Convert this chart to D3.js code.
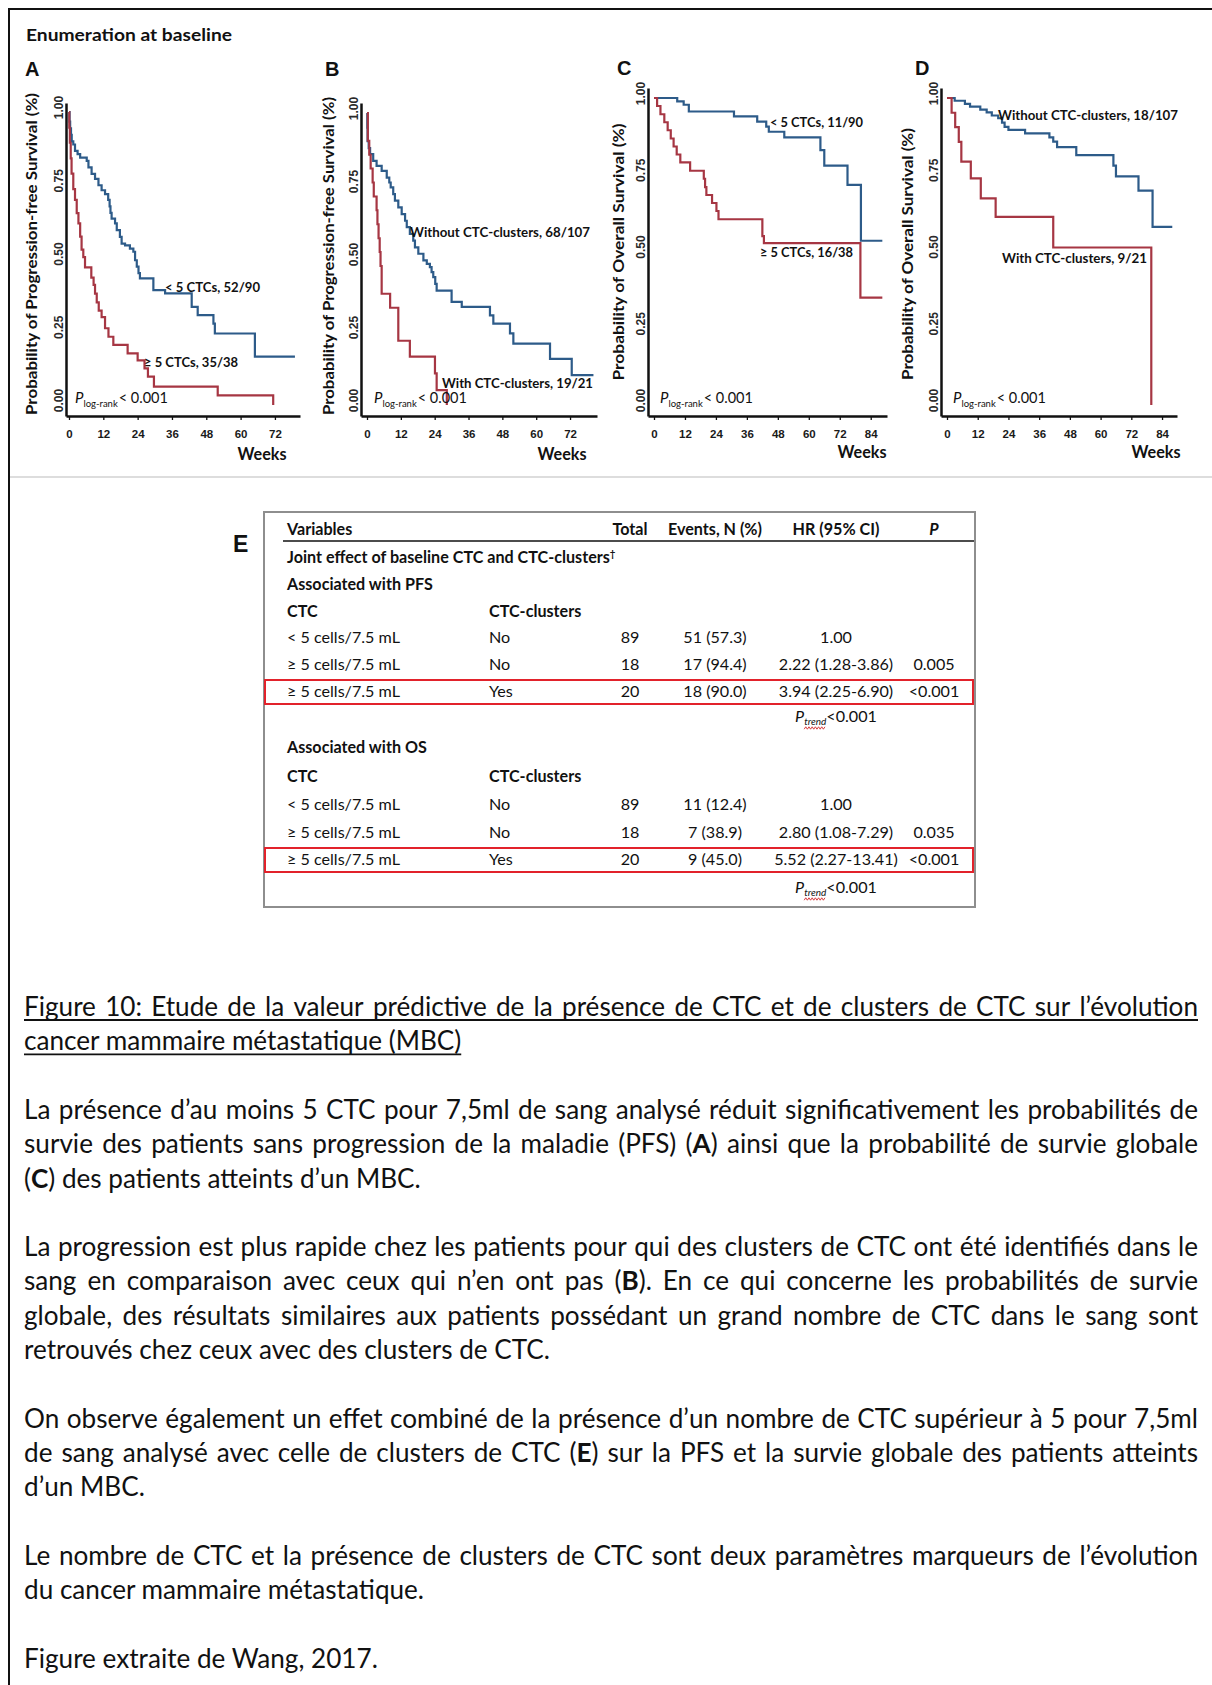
<!DOCTYPE html>
<html>
<head>
<meta charset="utf-8">
<script src="https://d3js.org/d3.v7.min.js"></script>
<style>
  body { margin: 0; background: #fff; }
</style>
</head>
<body>
<svg id="fig" width="1212" height="1685"></svg>
<script>
// ---- data ----
var pfsWeeks = [0, 12, 24, 36, 48, 60, 72];
var osWeeks = [0, 12, 24, 36, 48, 60, 72, 84];
var survTicks = [0, 0.25, 0.5, 0.75, 1];

// Kaplan-Meier steps: [week, survival after the step]
var pfsLowCtc = [[0,1],[0.2,0.967],[0.4,0.944],[0.7,0.922],[0.95,0.9],[1.5,0.889],[2.1,0.867],[3,0.856],[3.9,0.844],[6.2,0.833],[6.8,0.811],[7.9,0.789],[9.1,0.772],[10.3,0.75],[11.4,0.733],[12.6,0.72],[13.7,0.7],[14.2,0.678],[14.5,0.656],[14.9,0.636],[16.1,0.62],[16.7,0.597],[17.8,0.574],[18.4,0.551],[19.6,0.545],[21.3,0.534],[22.5,0.523],[23.1,0.494],[23.7,0.472],[24.3,0.45],[24.8,0.432],[29.5,0.392],[33.6,0.381],[42.9,0.335],[45,0.307],[50.5,0.278],[51,0.244],[65,0.165],[79,0.165]];
var pfsHighCtc = [[0,1],[0.1,0.947],[0.3,0.895],[0.6,0.842],[0.9,0.79],[1.5,0.737],[2.1,0.7],[2.7,0.655],[3.3,0.62],[3.9,0.575],[4.4,0.53],[5,0.505],[5.6,0.47],[7.8,0.435],[8.6,0.41],[9.1,0.38],[9.7,0.35],[10.4,0.322],[11.4,0.3],[12.6,0.262],[13.8,0.233],[15.5,0.205],[20.5,0.176],[24,0.152],[26.4,0.125],[27.6,0.097],[29.7,0.063],[52,0.033],[71.4,0]];
var pfsNoClusters = [[0,1],[0.1,0.95],[0.2,0.904],[0.6,0.88],[1.1,0.859],[2.2,0.836],[3.4,0.819],[5.2,0.802],[7,0.779],[7.9,0.762],[8.4,0.745],[9.3,0.722],[9.9,0.7],[11.1,0.677],[12.3,0.654],[13.5,0.631],[14.1,0.609],[15.2,0.586],[16.4,0.563],[17,0.54],[18.2,0.518],[20,0.495],[21.2,0.483],[22.3,0.472],[22.9,0.455],[23.5,0.438],[24.2,0.415],[24.7,0.392],[30,0.353],[33.6,0.336],[43.6,0.307],[44.8,0.279],[50.7,0.245],[51.9,0.21],[64.9,0.158],[72.6,0.102],[80.3,0.102]];
var pfsClusters = [[0,1],[0.3,0.905],[0.8,0.857],[1.3,0.81],[2,0.762],[2.4,0.714],[3.4,0.667],[3.7,0.619],[4.1,0.571],[4.5,0.524],[4.8,0.476],[5.2,0.381],[8.2,0.333],[11.1,0.22],[15.2,0.166],[24.1,0.108],[24.7,0.051],[28.3,0]];
var osLowCtc = [[0,1],[9,0.989],[11.5,0.978],[13.5,0.956],[31,0.94],[40,0.923],[43.5,0.907],[44.5,0.89],[50.5,0.872],[64.5,0.83],[66,0.78],[75,0.717],[80.2,0.535],[88.5,0.535]];
var osHighCtc = [[0,1],[1.2,0.974],[2.5,0.947],[4,0.921],[5.3,0.895],[6.5,0.868],[7.6,0.842],[8.8,0.816],[10.2,0.79],[14,0.763],[19.3,0.737],[19.8,0.71],[20.3,0.684],[22.5,0.658],[24.2,0.632],[25,0.605],[42,0.55],[42.6,0.527],[80,0.35],[88.5,0.35]];
var osNoClusters = [[0,1],[3,0.991],[7,0.981],[9,0.972],[13,0.962],[15.5,0.953],[17.5,0.943],[20,0.934],[21.5,0.92],[22.5,0.906],[24,0.896],[30.5,0.885],[40,0.872],[41.5,0.858],[43,0.84],[50.5,0.814],[65,0.78],[66,0.745],[74.8,0.698],[80.3,0.58],[88,0.58]];
var osClusters = [[0,1],[1.8,0.952],[3.2,0.905],[4.6,0.857],[5.6,0.793],[9.3,0.738],[13.2,0.673],[19,0.613],[41.5,0.513],[79.8,0]];

// table E
var tableHeader = ["Variables", "Total", "Events, N (%)", "HR (95% CI)", "P"];
var pfsRows = [
  ["< 5 cells/7.5 mL", "No", "89", "51 (57.3)", "1.00", ""],
  ["≥ 5 cells/7.5 mL", "No", "18", "17 (94.4)", "2.22 (1.28-3.86)", "0.005"],
  ["≥ 5 cells/7.5 mL", "Yes", "20", "18 (90.0)", "3.94 (2.25-6.90)", "<0.001"]
];
var osRows = [
  ["< 5 cells/7.5 mL", "No", "89", "11 (12.4)", "1.00", ""],
  ["≥ 5 cells/7.5 mL", "No", "18", "7 (38.9)", "2.80 (1.08-7.29)", "0.035"],
  ["≥ 5 cells/7.5 mL", "Yes", "20", "9 (45.0)", "5.52 (2.27-13.41)", "<0.001"]
];

// caption (one entry per printed line, *x* = bold)
var captionTitle = ["Figure 10: Etude de la valeur prédictive de la présence de CTC et de clusters de CTC sur l’évolution",
  "cancer mammaire métastatique (MBC)"];
var para1 = ["La présence d’au moins 5 CTC pour 7,5ml de sang analysé réduit significativement les probabilités de",
  "survie des patients sans progression de la maladie (PFS) (*A*) ainsi que la probabilité de survie globale",
  "(*C*) des patients atteints d’un MBC."];
var para2 = ["La progression est plus rapide chez les patients pour qui des clusters de CTC ont été identifiés dans le",
  "sang en comparaison avec ceux qui n’en ont pas (*B*). En ce qui concerne les probabilités de survie",
  "globale, des résultats similaires aux patients possédant un grand nombre de CTC dans le sang sont",
  "retrouvés chez ceux avec des clusters de CTC."];
var para3 = ["On observe également un effet combiné de la présence d’un nombre de CTC supérieur à 5 pour 7,5ml",
  "de sang analysé avec celle de clusters de CTC (*E*) sur la PFS et la survie globale des patients atteints",
  "d’un MBC."];
var para4 = ["Le nombre de CTC et la présence de clusters de CTC sont deux paramètres marqueurs de l’évolution",
  "du cancer mammaire métastatique."];
var para5 = ["Figure extraite de Wang, 2017."];

// ---- drawing ----
var CAL = "Lato, 'Open Sans', sans-serif";
var ARI = "'Liberation Sans', Arial, sans-serif";
var blue = "#2d5b89", red = "#a63643", ink = "#111";
var W = 1212, H = 1685;
var svg = d3.select("#fig");

function fitSize(str, target, weight) {
  var t = svg.append("text").attr("font-family", CAL).attr("font-weight", weight)
    .attr("font-size", 20).text(str);
  var w = t.node().getComputedTextLength();
  t.remove();
  return 20 * target / w;
}

function segs(sel, str) {
  str.split("*").forEach(function(s, i) {
    if (!s) return;
    sel.append("tspan").attr("font-weight", i % 2 ? "bold" : null).text(s);
  });
}

// frame + separator
svg.append("line").attr("x1", 8).attr("x2", W).attr("y1", 9).attr("y2", 9)
  .attr("stroke", ink).attr("stroke-width", 2);
svg.append("line").attr("x1", 9).attr("x2", 9).attr("y1", 8).attr("y2", H)
  .attr("stroke", ink).attr("stroke-width", 2);
svg.append("line").attr("x1", 10).attr("x2", W).attr("y1", 477).attr("y2", 477)
  .attr("stroke", "#d2d2d2").attr("stroke-width", 1.5);

svg.append("text").attr("x", 26).attr("y", 41)
  .attr("font-family", CAL).attr("font-weight", "bold").attr("font-size", 17.5).attr("fill", ink)
  .attr("textLength", 206).attr("lengthAdjust", "spacingAndGlyphs")
  .text("Enumeration at baseline");

var panels = [
  {key: "A", lx: 25, ly: 76, axL: 66, axR: 300, zero: 69, pw: 2.86, top: 103, bot: 416, y0: 405, y1: 112,
   ticks: pfsWeeks, title: "Probability of Progression-free Survival (%)", tx: 37, ty: 254, tlen: 322,
   wx: 262, wy: 460, px: 75, series: [[pfsLowCtc, blue], [pfsHighCtc, red]],
   notes: [["< 5 CTCs, 52/90", 165, 292, 95], ["≥ 5 CTCs, 35/38", 144, 367, 94]]},
  {key: "B", lx: 325, ly: 76, axL: 361, axR: 597, zero: 367, pw: 2.82, top: 103, bot: 416, y0: 405, y1: 113,
   ticks: pfsWeeks, title: "Probability of Progression-free Survival (%)", tx: 334, ty: 256, tlen: 318,
   wx: 562, wy: 460, px: 374, series: [[pfsNoClusters, blue], [pfsClusters, red]],
   notes: [["Without CTC-clusters, 68/107", 410, 237, 180], ["With CTC-clusters, 19/21", 442, 388, 151]]},
  {key: "C", lx: 617, ly: 75, axL: 648, axR: 887, zero: 654, pw: 2.58, top: 88, bot: 416, y0: 405, y1: 98,
   ticks: osWeeks, title: "Probability of Overall Survival (%)", tx: 624, ty: 252, tlen: 257,
   wx: 862, wy: 458, px: 660, series: [[osLowCtc, blue], [osHighCtc, red]],
   notes: [["< 5 CTCs, 11/90", 770, 127, 93], ["≥ 5 CTCs, 16/38", 760, 257, 93]]},
  {key: "D", lx: 915, ly: 75, axL: 941, axR: 1177, zero: 947, pw: 2.56, top: 88, bot: 416, y0: 405, y1: 98,
   ticks: osWeeks, title: "Probability of Overall Survival (%)", tx: 913, ty: 254, tlen: 252,
   wx: 1156, wy: 458, px: 953, series: [[osNoClusters, blue], [osClusters, red]],
   notes: [["Without CTC-clusters, 18/107", 998, 120, 180], ["With CTC-clusters, 9/21", 1002, 263, 145]]}
];

panels.forEach(function(p) {
  var x = d3.scaleLinear()
    .domain([(p.axL - p.zero) / p.pw, (p.axR - p.zero) / p.pw])
    .range([p.axL, p.axR]);
  var per = p.y0 - p.y1;
  var y = d3.scaleLinear()
    .domain([(p.y0 - p.bot) / per, (p.y0 - p.top) / per])
    .range([p.bot, p.top]);
  var g = svg.append("g");

  var line = d3.line()
    .x(function(d) { return x(d[0]); })
    .y(function(d) { return y(d[1]); })
    .curve(d3.curveStepAfter);
  p.series.forEach(function(s) {
    g.append("path").datum(s[0]).attr("d", line)
      .attr("fill", "none").attr("stroke", s[1]).attr("stroke-width", 2.2);
  });

  // x axis
  var xa = g.append("g").attr("transform", "translate(0," + p.bot + ")")
    .call(d3.axisBottom(x).tickValues(p.ticks).tickSize(4).tickSizeOuter(0).tickPadding(10));
  xa.select(".domain").attr("stroke", ink).attr("stroke-width", 2.5);
  xa.selectAll(".tick line").attr("stroke", ink).attr("stroke-width", 1.3);
  xa.selectAll("text").attr("font-family", ARI).attr("font-weight", "bold")
    .attr("font-size", 11.5).attr("fill", "#1a1a1a");

  // y axis, labels turned
  var ya = g.append("g").attr("transform", "translate(" + p.axL + ",0)")
    .call(d3.axisLeft(y).tickValues(survTicks).tickSize(0).tickSizeOuter(0).tickFormat(d3.format(".2f")));
  ya.select(".domain").attr("stroke", ink).attr("stroke-width", 2.5);
  ya.selectAll("text").attr("transform", "rotate(-90)")
    .attr("x", 5).attr("y", -3).attr("dy", 0).style("text-anchor", "middle")
    .attr("font-family", ARI).attr("font-weight", "bold").attr("font-size", 12).attr("fill", "#2a2a2a");

  // titles
  g.append("text").attr("x", p.lx).attr("y", p.ly)
    .attr("font-family", ARI).attr("font-weight", "bold").attr("font-size", 20).attr("fill", ink)
    .text(p.key);
  g.append("text").attr("transform", "translate(" + p.tx + "," + p.ty + ") rotate(-90)")
    .attr("text-anchor", "middle")
    .attr("font-family", CAL).attr("font-weight", "bold").attr("font-size", 14.5).attr("fill", ink)
    .attr("textLength", p.tlen).attr("lengthAdjust", "spacingAndGlyphs")
    .text(p.title);
  g.append("text").attr("x", p.wx).attr("y", p.wy).attr("text-anchor", "middle")
    .attr("font-family", CAL).attr("font-weight", "bold").attr("font-size", 16.5).attr("fill", ink)
    .attr("textLength", 49).attr("lengthAdjust", "spacingAndGlyphs")
    .text("Weeks");

  p.notes.forEach(function(n) {
    g.append("text").attr("x", n[1]).attr("y", n[2])
      .attr("font-family", CAL).attr("font-weight", "bold").attr("font-size", 13).attr("fill", ink)
      .attr("textLength", n[3]).attr("lengthAdjust", "spacingAndGlyphs")
      .text(n[0]);
  });

  var pt = g.append("text").attr("x", p.px).attr("y", 403)
    .attr("font-family", CAL).attr("fill", ink);
  pt.append("tspan").attr("font-style", "italic").attr("font-size", 15).text("P");
  pt.append("tspan").attr("font-size", 9.5).attr("dy", 4).text("log-rank");
  pt.append("tspan").attr("font-size", 14.5).attr("dy", -4).attr("dx", 1).text("< 0.001");
});

// ---- table E ----
svg.append("text").attr("x", 233).attr("y", 552)
  .attr("font-family", ARI).attr("font-weight", "bold").attr("font-size", 23).attr("fill", ink)
  .text("E");
svg.append("rect").attr("x", 264).attr("y", 512).attr("width", 711).attr("height", 395)
  .attr("fill", "none").attr("stroke", "#8e8e8e").attr("stroke-width", 2);
svg.append("line").attr("x1", 283).attr("x2", 974).attr("y1", 541).attr("y2", 541)
  .attr("stroke", ink).attr("stroke-width", 1.5);

var tFs = fitSize("< 5 cells/7.5 mL", 113, "normal");
var colX = [287, 489, 630, 715, 836, 934];
var colAnchor = ["start", "start", "middle", "middle", "middle", "middle"];

function cell(str, xx, yy, anchor, bold, italic) {
  return svg.append("text").attr("x", xx).attr("y", yy).attr("text-anchor", anchor)
    .attr("font-family", CAL).attr("font-size", tFs).attr("fill", ink)
    .attr("font-weight", bold ? "bold" : null).attr("font-style", italic ? "italic" : null)
    .text(str);
}

cell(tableHeader[0], colX[0], 535, "start", true);
tableHeader.slice(1).forEach(function(h, i) {
  cell(h, colX[i + 2], 535, "middle", true, h === "P");
});
var joint = cell("Joint effect of baseline CTC and CTC-clusters", colX[0], 563, "start", true);
joint.append("tspan").attr("font-size", tFs * 0.6).attr("dy", -6).text("†");

function block(heading, hy, subY, rows, rowY, trendY) {
  cell(heading, colX[0], hy, "start", true);
  cell("CTC", colX[0], subY, "start", true);
  cell("CTC-clusters", colX[1], subY, "start", true);
  rows.forEach(function(r, i) {
    r.forEach(function(v, j) {
      if (v) cell(v, colX[j], rowY[i], colAnchor[j]);
    });
  });
  var last = rowY[rowY.length - 1];
  svg.append("rect").attr("x", 265).attr("y", last - 17).attr("width", 708).attr("height", 24)
    .attr("fill", "none").attr("stroke", "#e2222b").attr("stroke-width", 2);
  var tr = svg.append("text").attr("x", colX[4]).attr("y", trendY).attr("text-anchor", "middle")
    .attr("font-family", CAL).attr("font-size", tFs).attr("fill", ink);
  tr.append("tspan").attr("font-style", "italic").text("P");
  tr.append("tspan").attr("font-style", "italic").attr("font-size", tFs * 0.62).attr("dy", 3).text("trend");
  tr.append("tspan").attr("dy", -3).text("<0.001");
  var n = tr.node();
  var xa = n.getStartPositionOfChar(1).x, xb = n.getEndPositionOfChar(5).x;
  var pts = d3.range(xa, xb, 1.6).map(function(v, i) { return [v, trendY + 6 + (i % 2 ? -1.2 : 1.2)]; });
  svg.append("path").attr("d", d3.line()(pts)).attr("fill", "none")
    .attr("stroke", "#d42a2a").attr("stroke-width", 0.9);
}
block("Associated with PFS", 590, 617, pfsRows, [643, 670, 697], 722);
block("Associated with OS", 753, 782, osRows, [810, 837.5, 865], 893);

// ---- caption ----
var capFs = fitSize("Figure extraite de Wang, 2017.", 354, "normal");
var capX = 24, capW = 1174, capTop = 1016, capStep = 34.3;

function setLine(str, yy, justify) {
  if (!justify) {
    var t = svg.append("text").attr("x", capX).attr("y", yy)
      .attr("font-family", CAL).attr("font-size", capFs).attr("fill", ink);
    segs(t, str);
    return capX + t.node().getComputedTextLength();
  }
  var words = str.split(" ");
  var nodes = words.map(function(w) {
    var t = svg.append("text").attr("y", yy)
      .attr("font-family", CAL).attr("font-size", capFs).attr("fill", ink);
    segs(t, w);
    return t;
  });
  var widths = nodes.map(function(n) { return n.node().getComputedTextLength(); });
  var gap = (capW - d3.sum(widths)) / (words.length - 1);
  var cx = capX;
  nodes.forEach(function(n, i) { n.attr("x", cx); cx += widths[i] + gap; });
  return capX + capW;
}

var lineIdx = 0;
[captionTitle, para1, para2, para3, para4, para5].forEach(function(para, pi) {
  para.forEach(function(str, li) {
    var yy = capTop + lineIdx * capStep;
    var endX = setLine(str, yy, li < para.length - 1);
    if (pi === 0) {
      svg.append("line").attr("x1", capX).attr("x2", endX).attr("y1", yy + 4).attr("y2", yy + 4)
        .attr("stroke", ink).attr("stroke-width", 1.8);
    }
    lineIdx++;
  });
  lineIdx++;
});
</script>
</body>
</html>
